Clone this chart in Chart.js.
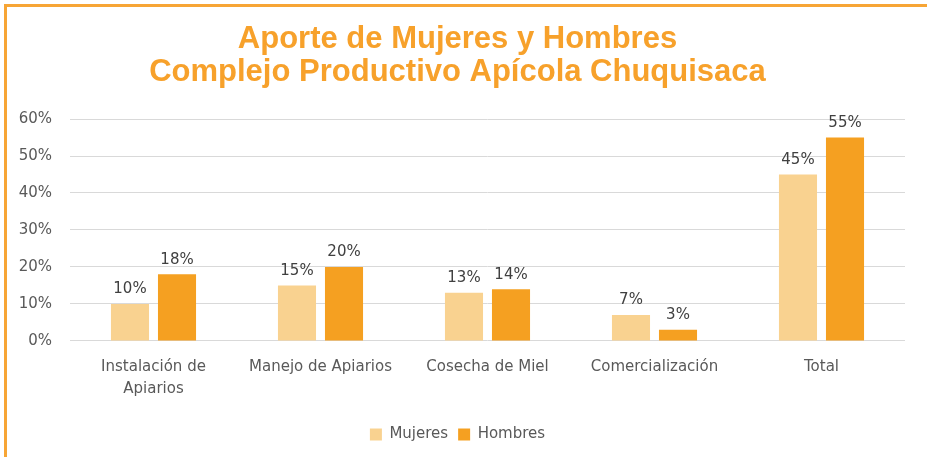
<!DOCTYPE html>
<html>
<head>
<meta charset="utf-8">
<script src="https://cdn.jsdelivr.net/npm/chart.js@4/dist/chart.umd.min.js"></script>
<style>
  html, body { margin: 0; padding: 0; background: #fff; overflow: hidden; }
  #frame {
    position: absolute; left: 4px; top: 4px; width: 1000px; height: 500px;
    border-left: 3px solid #F7A535; border-top: 3px solid #F7A535;
  }
  #wrap { position: absolute; left: 0; top: 0; width: 927px; height: 457px; }
</style>
</head>
<body>
<div id="frame"></div>
<div id="wrap"><canvas id="chart" width="927" height="457"></canvas></div>
<script>
// chart data
const categories = [['Instalación de', 'Apiarios'], 'Manejo de Apiarios', 'Cosecha de Miel', 'Comercialización', 'Total'];
const mujeres = [10, 15, 13, 7, 45];
const hombres = [18, 20, 14, 3, 55];
const yTicks = [0, 10, 20, 30, 40, 50, 60];

const FONT = "'DejaVu Sans', sans-serif";
const GRAY = '#595959';

// draws the percentage above each bar
const barLabels = {
    id: 'barLabels',
    afterDatasetsDraw(chart) {
        const ctx = chart.ctx;
        ctx.save();
        ctx.font = '15px ' + FONT;
        ctx.fillStyle = '#404040';
        ctx.textAlign = 'center';
        ctx.textBaseline = 'bottom';
        chart.data.datasets.forEach((ds, i) => {
            chart.getDatasetMeta(i).data.forEach((bar, j) => {
                ctx.fillText(ds.data[j] + '%', bar.x, bar.y - 7);
            });
        });
        ctx.restore();
    }
};

new Chart(document.getElementById('chart'), {
    type: 'bar',
    data: {
        labels: categories,
        datasets: [
            { label: 'Mujeres', data: mujeres, backgroundColor: '#F9D290' },
            { label: 'Hombres', data: hombres, backgroundColor: '#F5A021' }
        ]
    },
    options: {
        responsive: false,
        animation: false,
        layout: { padding: { left: 10, right: 22, top: 0, bottom: 5 } },
        datasets: { bar: { categoryPercentage: 0.563, barPercentage: 0.81 } },
        plugins: {
            title: {
                display: true,
                text: ['Aporte de Mujeres y Hombres', 'Complejo Productivo Apícola Chuquisaca'],
                color: '#F7A12B',
                font: { family: "'Liberation Sans', Arial, sans-serif", size: 31, weight: 'bold', lineHeight: 1.065 },
                padding: { top: 23, bottom: 30 }
            },
            legend: {
                position: 'bottom',
                labels: {
                    color: GRAY,
                    font: { family: FONT, size: 15 },
                    boxWidth: 12, boxHeight: 12, padding: 10
                }
            },
            tooltip: { enabled: false }
        },
        scales: {
            x: {
                grid: { display: false },
                border: { display: false },
                afterFit: axis => { axis.height += 10; },
                ticks: { color: GRAY, font: { family: FONT, size: 15, lineHeight: 1.47 }, padding: 7, maxRotation: 0 }
            },
            y: {
                min: 0, max: 60,
                afterBuildTicks: axis => { axis.ticks = yTicks.map(v => ({ value: v })); },
                afterFit: axis => { axis.width = 60; },
                grid: { color: '#D9D9D9', lineWidth: 1, drawTicks: false },
                border: { display: false },
                ticks: { color: GRAY, font: { family: FONT, size: 15 }, padding: 18, callback: v => v + '%' }
            }
        }
    },
    plugins: [barLabels]
});
</script>
</body>
</html>
